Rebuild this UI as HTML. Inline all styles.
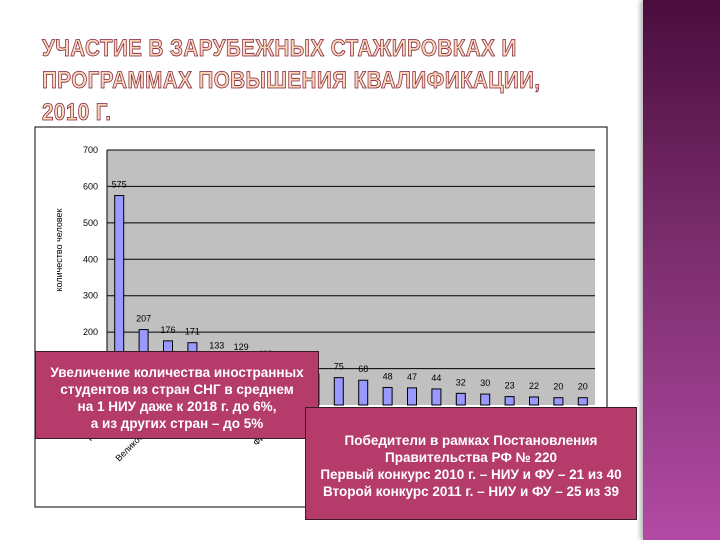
<!DOCTYPE html>
<html><head><meta charset="utf-8"><style>
body{margin:0;width:720px;height:540px;overflow:hidden;background:#fff;position:relative;font-family:"Liberation Sans","Noto Sans CJK SC",sans-serif}
#title{position:absolute;left:42px;top:33px;font-size:24px;line-height:32px;font-weight:bold;letter-spacing:0.5px;color:#fbd7b8;-webkit-text-stroke:0.8px #7a1d3a;font-family:"Liberation Sans",sans-serif;white-space:nowrap;transform:scaleX(0.86);transform-origin:0 0}
#side{position:absolute;left:643px;top:0;width:77px;height:540px;background:linear-gradient(#4a0d3e,#7a2d6c 45%,#b24aa4);box-shadow:-3px 0 4px #bbb}
.call{position:absolute;background:#b43b6a;border:1px solid #3a1a25;color:#fff;font-weight:bold;text-align:center;font-size:13.5px;line-height:17px}
</style></head><body>
<div id="title">УЧАСТИЕ В ЗАРУБЕЖНЫХ СТАЖИРОВКАХ И<br>ПРОГРАММАХ ПОВЫШЕНИЯ КВАЛИФИКАЦИИ,<br>2010 Г.</div>
<div id="side"></div>
<svg id="chart" width="720" height="540" style="position:absolute;left:0;top:0">
<rect x="35" y="127" width="572" height="380" fill="#fff" stroke="#000" stroke-width="1"/>
<g id="g"></g>
</svg>
<div class="call" style="left:35px;top:351px;width:284px;height:88px;padding-top:12px;box-sizing:border-box">Увеличение количества иностранных<br>студентов из стран СНГ в среднем<br>на 1 НИУ даже к 2018 г. до 6%,<br>а из других стран – до 5%</div>
<div class="call" style="left:305px;top:407px;width:332px;height:113px;padding-top:24px;box-sizing:border-box">Победители в рамках Постановления<br>Правительства РФ № 220<br>Первый конкурс 2010 г. – НИУ и ФУ – 21 из 40<br>Второй конкурс 2011 г. – НИУ и ФУ – 25 из 39</div>
<script>
const categories=["Германия","Франция","Великобритания","США","Италия","Испания","Китай","Финляндия","Австрия","Швеция","Чехия","Польша","Канада","Нидерланды","Бельгия","Япония","Швейцария","Норвегия","Дания","Корея"];
const values=[575,207,176,171,133,129,110,95,85,75,68,48,47,44,32,30,23,22,20,20];
const yTicks=[0,100,200,300,400,500,600,700];
const NS="http://www.w3.org/2000/svg";
const g=document.getElementById('g');
const x0=107,x1=595,yTop=150,yBot=405,ymax=700;
const y=v=>yBot-(v/ymax)*(yBot-yTop);
const step=(x1-x0)/categories.length;
const xc=i=>x0+step*(i+0.5);
function mk(t,a){const e=document.createElementNS(NS,t);for(const k in a)e.setAttribute(k,a[k]);g.appendChild(e);return e;}
const bg=mk('rect',{x:x0,y:yTop,width:x1-x0,height:yBot-yTop,fill:'#c0c0c0'});


yTicks.forEach(v=>{
 if(v>0){const l=mk('line',{x1:x0,x2:x1,y1:y(v),y2:y(v),stroke:'#000','stroke-width':1});
 
 }
 const t=mk('text',{x:x0-9,y:y(v)+3,'text-anchor':'end','font-size':9,fill:'#000'});t.textContent=v;
 
 
});
const ax=mk('line',{x1:x0,x2:x0,y1:yTop,y2:yBot,stroke:'#000'});


const yt=mk('text',{x:62,y:250,'text-anchor':'middle','font-size':9,transform:'rotate(-90 62 250)'});yt.textContent='количество человек';


values.forEach((v,i)=>{
 const bw=9;
 const r=mk('rect',{x:xc(i)-bw/2,y:y(v),width:bw,height:yBot-y(v),fill:'#9999ff',stroke:'#000','stroke-width':1});
 
 
 const t=mk('text',{x:xc(i),y:y(v)-8,'text-anchor':'middle','font-size':9});t.textContent=v;
 
 
 const lx=xc(i),ly=yBot+8;
 const c=mk('text',{x:lx,y:ly,'text-anchor':'end','font-size':9,transform:'rotate(-45 '+lx+' '+ly+')'});c.textContent=categories[i];
 
 
});
</script>
</body></html>
